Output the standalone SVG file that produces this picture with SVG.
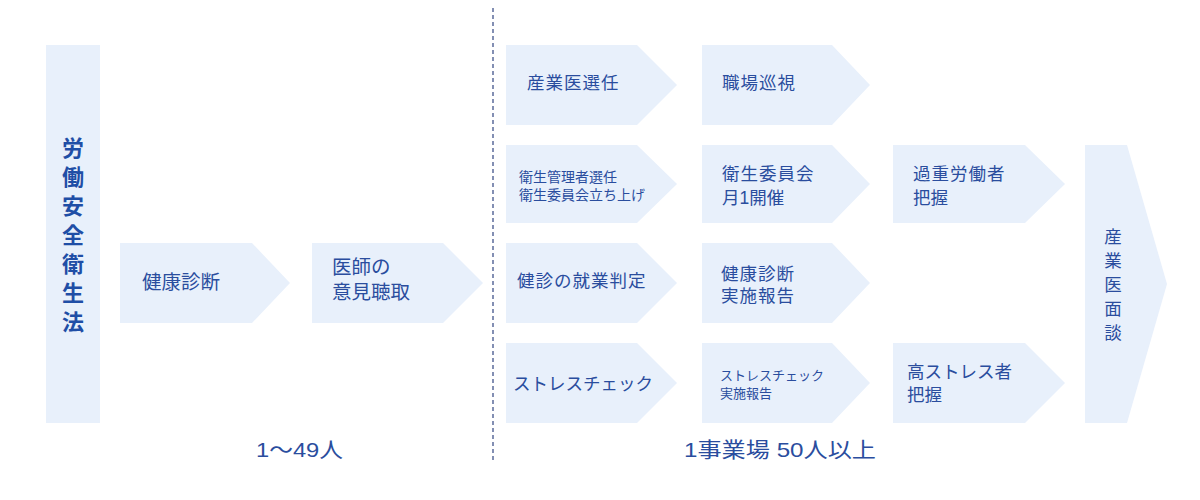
<svg xmlns="http://www.w3.org/2000/svg" width="1200" height="500" viewBox="0 0 1200 500">
<style>
.box{fill:#e8f0fb}
text{font-family:"Liberation Sans","Noto Sans CJK JP",sans-serif;fill:#2a4d9e}
.m{font-size:17.5px}
.l{font-size:19.5px}
.s{font-size:14px}
.xs{font-size:13px}
.b{font-size:22px;font-weight:bold;fill:#1f4ea6}
.f{font-size:21px}
</style>
<rect width="1200" height="500" fill="#ffffff"/>
<g id="connectors">
<line x1="493" y1="8" x2="493" y2="462" stroke="#5b6b9b" stroke-width="1.5" stroke-dasharray="4,3"/>
</g>
<g id="n-law">
<rect class="box" x="46" y="45" width="54" height="378"/>
<text class="b" text-anchor="middle"><tspan x="73" y="156">労</tspan><tspan x="73" y="185">働</tspan><tspan x="73" y="214">安</tspan><tspan x="73" y="243">全</tspan><tspan x="73" y="272">衛</tspan><tspan x="73" y="301">生</tspan><tspan x="73" y="330">法</tspan></text>
</g>
<g id="n-kenshin">
<polygon class="box" points="120,243 252,243 290,283 252,323 120,323"/>
<text class="l" x="142" y="289">健康診断</text>
</g>
<g id="n-ishi">
<polygon class="box" points="312,243 443,243 483,283 443,323 312,323"/>
<text class="l" x="332" y="274">医師の</text>
<text class="l" x="332" y="299">意見聴取</text>
</g>
<g id="n-sangyoui">
<polygon class="box" points="506,45 637,45 677,85 637,125 506,125"/>
<text class="m" x="527" y="89" letter-spacing="1">産業医選任</text>
</g>
<g id="n-junshi">
<polygon class="box" points="702,45 832,45 870,85 832,125 702,125"/>
<text class="m" x="722" y="89" letter-spacing="1">職場巡視</text>
</g>
<g id="n-eisei">
<polygon class="box" points="506,145 637,145 677,184 637,223 506,223"/>
<text class="s" x="519" y="182">衛生管理者選任</text>
<text class="s" x="519" y="200">衛生委員会立ち上げ</text>
</g>
<g id="n-iinkai">
<polygon class="box" points="702,145 832,145 870,184 832,223 702,223"/>
<text class="m" x="722" y="180" letter-spacing="1">衛生委員会</text>
<text class="m" x="722" y="204">月1開催</text>
</g>
<g id="n-kajyu">
<polygon class="box" points="893,145 1025,145 1065,184 1025,223 893,223"/>
<text class="m" x="913" y="180" letter-spacing="1">過重労働者</text>
<text class="m" x="913" y="204">把握</text>
</g>
<g id="n-hantei">
<polygon class="box" points="506,243 637,243 677,283 637,323 506,323"/>
<text class="m" x="517" y="287" letter-spacing="1">健診の就業判定</text>
</g>
<g id="n-houkoku">
<polygon class="box" points="702,243 832,243 870,283 832,323 702,323"/>
<text class="m" x="721" y="280" letter-spacing="1">健康診断</text>
<text class="m" x="721" y="302" letter-spacing="1">実施報告</text>
</g>
<g id="n-stress">
<polygon class="box" points="506,343 637,343 677,383 637,423 506,423"/>
<text class="m" x="513" y="390">ストレスチェック</text>
</g>
<g id="n-stress-houkoku">
<polygon class="box" points="702,343 832,343 870,383 832,423 702,423"/>
<text class="xs" x="720" y="380">ストレスチェック</text>
<text class="xs" x="720" y="398">実施報告</text>
</g>
<g id="n-kou">
<polygon class="box" points="893,343 1025,343 1065,383 1025,423 893,423"/>
<text class="m" x="907" y="378">高ストレス者</text>
<text class="m" x="907" y="401">把握</text>
</g>
<g id="n-mendan">
<polygon class="box" points="1085,145 1127,145 1167,284 1127,423 1085,423"/>
<text class="m" text-anchor="middle"><tspan x="1113" y="243">産</tspan><tspan x="1113" y="267">業</tspan><tspan x="1113" y="291">医</tspan><tspan x="1113" y="315">面</tspan><tspan x="1113" y="339">談</tspan></text>
</g>
<g id="labels">
<text class="f" x="256" y="457" textLength="87" lengthAdjust="spacingAndGlyphs">1〜49人</text>
<text class="f" x="684" y="457" textLength="192" lengthAdjust="spacingAndGlyphs">1事業場 50人以上</text>
</g>
</svg>
